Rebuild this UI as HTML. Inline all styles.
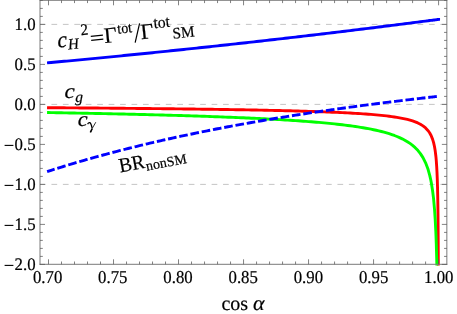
<!DOCTYPE html>
<html><head><meta charset="utf-8"><title>plot</title>
<style>html,body{margin:0;padding:0;background:#fff}svg{display:block;will-change:transform}text{font-family:"Liberation Serif",serif;fill:#000;stroke:#000;stroke-width:0.2px;text-rendering:geometricPrecision}</style></head><body>
<svg width="457" height="314" viewBox="0 0 457 314">
<rect width="457" height="314" fill="#fff"/>
<line x1="40.00" y1="24.40" x2="446.85" y2="24.40" stroke="#bebebe" stroke-width="0.9" stroke-dasharray="5.72 5.72"/>
<line x1="40.00" y1="104.40" x2="446.85" y2="104.40" stroke="#bebebe" stroke-width="0.9" stroke-dasharray="5.72 5.72"/>
<line x1="40.00" y1="184.40" x2="446.85" y2="184.40" stroke="#bebebe" stroke-width="0.9" stroke-dasharray="5.72 5.72"/>
<clipPath id="cp"><rect x="40.00" y="-5" width="406.85" height="270.50"/></clipPath>
<g clip-path="url(#cp)" fill="none" stroke-linejoin="round" stroke-linecap="square">
<path d="M48.50,62.75L51.10,62.51L53.70,62.27L56.30,62.03L58.90,61.79L61.50,61.55L64.10,61.31L66.70,61.07L69.30,60.82L71.91,60.58L74.51,60.34L77.11,60.09L79.71,59.85L82.31,59.60L84.91,59.35L87.51,59.10L90.11,58.85L92.71,58.61L95.31,58.36L97.91,58.11L100.51,57.85L103.11,57.60L105.71,57.35L108.31,57.10L110.91,56.84L113.52,56.59L116.12,56.33L118.72,56.08L121.32,55.82L123.92,55.56L126.52,55.30L129.12,55.05L131.72,54.79L134.32,54.53L136.92,54.26L139.52,54.00L142.12,53.74L144.72,53.48L147.32,53.22L149.92,52.95L152.52,52.69L155.12,52.42L157.73,52.15L160.33,51.89L162.93,51.62L165.53,51.35L168.13,51.08L170.73,50.81L173.33,50.54L175.93,50.27L178.53,50.00L181.13,49.73L183.73,49.45L186.33,49.18L188.93,48.91L191.53,48.63L194.13,48.36L196.73,48.08L199.33,47.80L201.94,47.52L204.54,47.25L207.14,46.97L209.74,46.69L212.34,46.41L214.94,46.13L217.54,45.84L220.14,45.56L222.74,45.28L225.34,44.99L227.94,44.71L230.54,44.42L233.14,44.14L235.74,43.85L238.34,43.56L240.94,43.28L243.55,42.99L246.15,42.70L248.75,42.41L251.35,42.12L253.95,41.83L256.55,41.53L259.15,41.24L261.75,40.95L264.35,40.65L266.95,40.36L269.55,40.06L272.15,39.77L274.75,39.47L277.35,39.17L279.95,38.87L282.55,38.58L285.15,38.28L287.76,37.98L290.36,37.68L292.96,37.37L295.56,37.07L298.16,36.77L300.76,36.46L303.36,36.16L305.96,35.86L308.56,35.55L311.16,35.24L313.76,34.94L316.36,34.63L318.96,34.32L321.56,34.01L324.16,33.70L326.76,33.39L329.36,33.08L331.97,32.77L334.57,32.46L337.17,32.14L339.77,31.83L342.37,31.51L344.97,31.20L347.57,30.88L350.17,30.57L352.77,30.25L355.37,29.93L357.97,29.61L360.57,29.29L363.17,28.97L365.77,28.65L368.37,28.33L370.97,28.01L373.57,27.69L376.18,27.36L378.78,27.04L381.38,26.72L383.98,26.39L386.58,26.06L389.18,25.74L391.78,25.41L394.38,25.08L396.98,24.75L399.58,24.42L402.18,24.09L404.78,23.76L407.38,23.43L409.98,23.10L412.58,22.77L415.18,22.43L417.79,22.10L420.39,21.76L422.99,21.43L425.59,21.09L427.86,20.80L428.19,20.75L429.73,20.55L430.79,20.42L431.28,20.35L432.55,20.19L433.39,20.08L433.61,20.05L434.48,19.94L435.20,19.84L435.79,19.77L435.99,19.74L436.28,19.70L436.68,19.65L437.01,19.61L437.29,19.57L437.52,19.54L437.70,19.52L437.86,19.50L437.99,19.48L438.09,19.47L438.18,19.45L438.25,19.44L438.31,19.44L438.36,19.43L438.40,19.42L438.43,19.42L438.46,19.42L438.48,19.41L438.50,19.41L438.52,19.41L438.53,19.41L438.54,19.41L438.55,19.41L438.56,19.40L438.56,19.40L438.57,19.40L438.57,19.40L438.57,19.40L438.58,19.40L438.58,19.40L438.58,19.40L438.58,19.40L438.58,19.40L438.59,19.40L438.59,19.40L438.59,19.40L438.59,19.40L438.59,19.40L438.59,19.40L438.59,19.40L438.59,19.40L438.59,19.40L438.59,19.40L438.59,19.40L438.59,19.40L438.59,19.40L438.59,19.40L438.59,19.40L438.59,19.40L438.59,19.40L438.59,19.40L438.59,19.40L438.59,19.40" stroke="#0000ff" stroke-width="2.90"/>
<path d="M48.50,107.69L51.10,107.71L53.70,107.73L56.30,107.75L58.90,107.77L61.50,107.79L64.10,107.81L66.70,107.83L69.30,107.85L71.91,107.87L74.51,107.89L77.11,107.91L79.71,107.93L82.31,107.95L84.91,107.97L87.51,107.99L90.11,108.01L92.71,108.03L95.31,108.05L97.91,108.07L100.51,108.10L103.11,108.12L105.71,108.14L108.31,108.16L110.91,108.19L113.52,108.21L116.12,108.23L118.72,108.26L121.32,108.28L123.92,108.30L126.52,108.33L129.12,108.35L131.72,108.38L134.32,108.40L136.92,108.43L139.52,108.45L142.12,108.48L144.72,108.51L147.32,108.53L149.92,108.56L152.52,108.59L155.12,108.62L157.73,108.64L160.33,108.67L162.93,108.70L165.53,108.73L168.13,108.76L170.73,108.79L173.33,108.82L175.93,108.85L178.53,108.88L181.13,108.91L183.73,108.94L186.33,108.98L188.93,109.01L191.53,109.04L194.13,109.07L196.73,109.11L199.33,109.14L201.94,109.18L204.54,109.21L207.14,109.25L209.74,109.29L212.34,109.32L214.94,109.36L217.54,109.40L220.14,109.44L222.74,109.48L225.34,109.52L227.94,109.56L230.54,109.60L233.14,109.64L235.74,109.69L238.34,109.73L240.94,109.78L243.55,109.82L246.15,109.87L248.75,109.92L251.35,109.96L253.95,110.01L256.55,110.06L259.15,110.11L261.75,110.17L264.35,110.22L266.95,110.27L269.55,110.33L272.15,110.39L274.75,110.44L277.35,110.50L279.95,110.56L282.55,110.63L285.15,110.69L287.76,110.75L290.36,110.82L292.96,110.89L295.56,110.96L298.16,111.03L300.76,111.10L303.36,111.18L305.96,111.26L308.56,111.34L311.16,111.42L313.76,111.50L316.36,111.59L318.96,111.68L321.56,111.77L324.16,111.87L326.76,111.97L329.36,112.07L331.97,112.18L334.57,112.29L337.17,112.40L339.77,112.52L342.37,112.64L344.97,112.77L347.57,112.90L350.17,113.04L352.77,113.18L355.37,113.33L357.97,113.49L360.57,113.66L363.17,113.83L365.77,114.01L368.37,114.21L370.97,114.41L373.57,114.62L376.18,114.85L378.78,115.09L381.38,115.35L383.98,115.62L386.58,115.92L389.18,116.24L391.78,116.58L394.38,116.95L396.98,117.36L399.58,117.81L402.18,118.30L404.78,118.85L407.38,119.46L409.98,120.15L412.58,120.95L415.18,121.87L417.79,122.96L420.39,124.27L422.99,125.89L425.59,127.98L427.86,130.39L428.19,130.80L429.73,133.04L430.79,134.93L431.28,135.95L432.55,139.15L433.39,141.85L433.61,142.67L434.48,146.55L435.20,150.81L435.79,155.50L435.99,157.45L436.28,160.67L436.68,166.35L437.01,172.60L437.29,179.48L437.52,187.05L437.70,195.38L437.86,204.55L437.99,214.64L438.09,225.75L438.18,237.97L438.25,251.43L438.31,266.24L438.31,266.80" stroke="#ff0000" stroke-width="2.90"/>
<path d="M48.50,112.56L51.10,112.60L53.70,112.65L56.30,112.69L58.90,112.74L61.50,112.79L64.10,112.84L66.70,112.88L69.30,112.93L71.91,112.98L74.51,113.03L77.11,113.08L79.71,113.13L82.31,113.18L84.91,113.23L87.51,113.29L90.11,113.34L92.71,113.39L95.31,113.45L97.91,113.50L100.51,113.55L103.11,113.61L105.71,113.66L108.31,113.72L110.91,113.78L113.52,113.83L116.12,113.89L118.72,113.95L121.32,114.01L123.92,114.07L126.52,114.13L129.12,114.19L131.72,114.25L134.32,114.31L136.92,114.38L139.52,114.44L142.12,114.51L144.72,114.57L147.32,114.64L149.92,114.70L152.52,114.77L155.12,114.84L157.73,114.91L160.33,114.98L162.93,115.05L165.53,115.12L168.13,115.19L170.73,115.27L173.33,115.34L175.93,115.42L178.53,115.49L181.13,115.57L183.73,115.65L186.33,115.73L188.93,115.81L191.53,115.89L194.13,115.98L196.73,116.06L199.33,116.14L201.94,116.23L204.54,116.32L207.14,116.41L209.74,116.50L212.34,116.59L214.94,116.69L217.54,116.78L220.14,116.88L222.74,116.98L225.34,117.08L227.94,117.18L230.54,117.28L233.14,117.39L235.74,117.49L238.34,117.60L240.94,117.71L243.55,117.82L246.15,117.94L248.75,118.06L251.35,118.18L253.95,118.30L256.55,118.42L259.15,118.55L261.75,118.68L264.35,118.81L266.95,118.94L269.55,119.08L272.15,119.22L274.75,119.36L277.35,119.51L279.95,119.66L282.55,119.81L285.15,119.97L287.76,120.13L290.36,120.30L292.96,120.47L295.56,120.64L298.16,120.82L300.76,121.00L303.36,121.19L305.96,121.38L308.56,121.58L311.16,121.78L313.76,121.99L316.36,122.21L318.96,122.43L321.56,122.66L324.16,122.90L326.76,123.14L329.36,123.40L331.97,123.66L334.57,123.93L337.17,124.21L339.77,124.50L342.37,124.81L344.97,125.12L347.57,125.45L350.17,125.79L352.77,126.15L355.37,126.52L357.97,126.91L360.57,127.32L363.17,127.75L365.77,128.20L368.37,128.68L370.97,129.18L373.57,129.71L376.18,130.28L378.78,130.87L381.38,131.51L383.98,132.19L386.58,132.93L389.18,133.71L391.78,134.56L394.38,135.49L396.98,136.49L399.58,137.60L402.18,138.82L404.78,140.17L407.38,141.69L409.98,143.41L412.58,145.37L415.18,147.66L417.79,150.35L420.39,153.60L422.99,157.62L425.59,162.79L427.86,168.75L428.19,169.78L429.73,175.31L430.79,180.01L431.28,182.52L432.55,190.45L433.39,197.14L433.61,199.17L434.48,208.77L435.20,219.33L435.79,230.94L435.99,235.75L436.28,243.72L436.68,257.79L436.88,266.80" stroke="#00ff00" stroke-width="2.90"/>
<path d="M48.50,171.15L51.10,170.31L53.70,169.48L56.30,168.66L58.90,167.85L61.50,167.04L64.10,166.24L66.70,165.45L69.30,164.66L71.91,163.88L74.51,163.11L77.11,162.34L79.71,161.58L82.31,160.82L84.91,160.08L87.51,159.33L90.11,158.60L92.71,157.87L95.31,157.14L97.91,156.42L100.51,155.71L103.11,155.00L105.71,154.30L108.31,153.61L110.91,152.92L113.52,152.23L116.12,151.55L118.72,150.88L121.32,150.21L123.92,149.55L126.52,148.89L129.12,148.24L131.72,147.59L134.32,146.95L136.92,146.31L139.52,145.68L142.12,145.05L144.72,144.43L147.32,143.81L149.92,143.20L152.52,142.59L155.12,141.98L157.73,141.39L160.33,140.79L162.93,140.20L165.53,139.62L168.13,139.03L170.73,138.46L173.33,137.88L175.93,137.32L178.53,136.75L181.13,136.19L183.73,135.64L186.33,135.09L188.93,134.54L191.53,134.00L194.13,133.46L196.73,132.92L199.33,132.39L201.94,131.86L204.54,131.34L207.14,130.82L209.74,130.30L212.34,129.79L214.94,129.28L217.54,128.78L220.14,128.28L222.74,127.78L225.34,127.28L227.94,126.79L230.54,126.31L233.14,125.82L235.74,125.34L238.34,124.87L240.94,124.39L243.55,123.92L246.15,123.46L248.75,122.99L251.35,122.53L253.95,122.08L256.55,121.62L259.15,121.17L261.75,120.72L264.35,120.28L266.95,119.84L269.55,119.40L272.15,118.97L274.75,118.53L277.35,118.10L279.95,117.68L282.55,117.25L285.15,116.83L287.76,116.42L290.36,116.00L292.96,115.59L295.56,115.18L298.16,114.77L300.76,114.37L303.36,113.97L305.96,113.57L308.56,113.17L311.16,112.78L313.76,112.39L316.36,112.00L318.96,111.62L321.56,111.23L324.16,110.85L326.76,110.47L329.36,110.10L331.97,109.73L334.57,109.35L337.17,108.99L339.77,108.62L342.37,108.26L344.97,107.90L347.57,107.54L350.17,107.18L352.77,106.83L355.37,106.48L357.97,106.13L360.57,105.78L363.17,105.43L365.77,105.09L368.37,104.75L370.97,104.41L373.57,104.07L376.18,103.74L378.78,103.41L381.38,103.08L383.98,102.75L386.58,102.42L389.18,102.10L391.78,101.78L394.38,101.46L396.98,101.14L399.58,100.82L402.18,100.51L404.78,100.20L407.38,99.89L409.98,99.58L412.58,99.27L415.18,98.97L417.79,98.66L420.39,98.36L422.99,98.06L425.59,97.77L427.86,97.51L428.19,97.47L429.73,97.30L430.79,97.18L431.28,97.12L432.55,96.98L433.39,96.88L433.61,96.86L434.48,96.76L435.20,96.68L435.79,96.62L435.99,96.59L436.28,96.56L436.68,96.52L437.01,96.48L437.29,96.45L437.52,96.42L437.70,96.40L437.86,96.39L437.99,96.37L438.09,96.36L438.18,96.35L438.25,96.34L438.31,96.34L438.36,96.33L438.40,96.33L438.43,96.32L438.46,96.32L438.48,96.32L438.50,96.32L438.52,96.31L438.53,96.31L438.54,96.31L438.55,96.31L438.56,96.31L438.56,96.31L438.57,96.31L438.57,96.31L438.57,96.31L438.58,96.31L438.58,96.31L438.58,96.31L438.58,96.31L438.58,96.31L438.59,96.31L438.59,96.31L438.59,96.31L438.59,96.31L438.59,96.31L438.59,96.31L438.59,96.31L438.59,96.31L438.59,96.31L438.59,96.31L438.59,96.31L438.59,96.31L438.59,96.31L438.59,96.31L438.59,96.31L438.59,96.31L438.59,96.31L438.59,96.31L438.59,96.31L438.59,96.31" stroke="#0000ff" stroke-width="2.90" stroke-dasharray="5.73 5.73" stroke-dashoffset="0.75"/>
</g>
<path d="M40.00,-0.20V264.80" stroke="#7a7a7a" stroke-width="1"/>
<path d="M446.85,-0.20V264.80" stroke="#7a7a7a" stroke-width="1"/>
<path d="M39.50,264.30H447.35" stroke="#7a7a7a" stroke-width="1"/>
<path d="M39.50,0.30H447.35" stroke="#7a7a7a" stroke-width="1"/>
<path d="M48.50,264.30v-5.00M48.50,0.30v5.00M61.50,264.30v-2.80M61.50,0.30v2.80M74.51,264.30v-2.80M74.51,0.30v2.80M87.51,264.30v-2.80M87.51,0.30v2.80M100.51,264.30v-2.80M100.51,0.30v2.80M113.52,264.30v-5.00M113.52,0.30v5.00M126.52,264.30v-2.80M126.52,0.30v2.80M139.52,264.30v-2.80M139.52,0.30v2.80M152.52,264.30v-2.80M152.52,0.30v2.80M165.53,264.30v-2.80M165.53,0.30v2.80M178.53,264.30v-5.00M178.53,0.30v5.00M191.53,264.30v-2.80M191.53,0.30v2.80M204.54,264.30v-2.80M204.54,0.30v2.80M217.54,264.30v-2.80M217.54,0.30v2.80M230.54,264.30v-2.80M230.54,0.30v2.80M243.55,264.30v-5.00M243.55,0.30v5.00M256.55,264.30v-2.80M256.55,0.30v2.80M269.55,264.30v-2.80M269.55,0.30v2.80M282.55,264.30v-2.80M282.55,0.30v2.80M295.56,264.30v-2.80M295.56,0.30v2.80M308.56,264.30v-5.00M308.56,0.30v5.00M321.56,264.30v-2.80M321.56,0.30v2.80M334.57,264.30v-2.80M334.57,0.30v2.80M347.57,264.30v-2.80M347.57,0.30v2.80M360.57,264.30v-2.80M360.57,0.30v2.80M373.57,264.30v-5.00M373.57,0.30v5.00M386.58,264.30v-2.80M386.58,0.30v2.80M399.58,264.30v-2.80M399.58,0.30v2.80M412.58,264.30v-2.80M412.58,0.30v2.80M425.59,264.30v-2.80M425.59,0.30v2.80M438.59,264.30v-5.00M438.59,0.30v5.00M40.00,264.40h5.00M446.85,264.40h-5.00M40.00,256.40h2.80M446.85,256.40h-2.80M40.00,248.40h2.80M446.85,248.40h-2.80M40.00,240.40h2.80M446.85,240.40h-2.80M40.00,232.40h2.80M446.85,232.40h-2.80M40.00,224.40h5.00M446.85,224.40h-5.00M40.00,216.40h2.80M446.85,216.40h-2.80M40.00,208.40h2.80M446.85,208.40h-2.80M40.00,200.40h2.80M446.85,200.40h-2.80M40.00,192.40h2.80M446.85,192.40h-2.80M40.00,184.40h5.00M446.85,184.40h-5.00M40.00,176.40h2.80M446.85,176.40h-2.80M40.00,168.40h2.80M446.85,168.40h-2.80M40.00,160.40h2.80M446.85,160.40h-2.80M40.00,152.40h2.80M446.85,152.40h-2.80M40.00,144.40h5.00M446.85,144.40h-5.00M40.00,136.40h2.80M446.85,136.40h-2.80M40.00,128.40h2.80M446.85,128.40h-2.80M40.00,120.40h2.80M446.85,120.40h-2.80M40.00,112.40h2.80M446.85,112.40h-2.80M40.00,104.40h5.00M446.85,104.40h-5.00M40.00,96.40h2.80M446.85,96.40h-2.80M40.00,88.40h2.80M446.85,88.40h-2.80M40.00,80.40h2.80M446.85,80.40h-2.80M40.00,72.40h2.80M446.85,72.40h-2.80M40.00,64.40h5.00M446.85,64.40h-5.00M40.00,56.40h2.80M446.85,56.40h-2.80M40.00,48.40h2.80M446.85,48.40h-2.80M40.00,40.40h2.80M446.85,40.40h-2.80M40.00,32.40h2.80M446.85,32.40h-2.80M40.00,24.40h5.00M446.85,24.40h-5.00M40.00,16.40h2.80M446.85,16.40h-2.80M40.00,8.40h2.80M446.85,8.40h-2.80M40.00,0.40h2.80M446.85,0.40h-2.80" stroke="#585858" stroke-width="0.75" fill="none"/>
<text transform="translate(35.60 29.80) scale(1.000 1.050)" font-size="16.80" text-anchor="end">1.0</text>
<text transform="translate(35.60 69.80) scale(1.000 1.050)" font-size="16.80" text-anchor="end">0.5</text>
<text transform="translate(35.60 109.80) scale(1.000 1.050)" font-size="16.80" text-anchor="end">0.0</text>
<text transform="translate(35.60 149.80) scale(1.000 1.050)" font-size="16.80" text-anchor="end">0.5</text>
<path d="M4.6,145.40h8.8" stroke="#000" stroke-width="1.1"/>
<text transform="translate(35.60 189.80) scale(1.000 1.050)" font-size="16.80" text-anchor="end">1.0</text>
<path d="M4.6,185.40h8.8" stroke="#000" stroke-width="1.1"/>
<text transform="translate(35.60 229.80) scale(1.000 1.050)" font-size="16.80" text-anchor="end">1.5</text>
<path d="M4.6,225.40h8.8" stroke="#000" stroke-width="1.1"/>
<text transform="translate(35.60 269.80) scale(1.000 1.050)" font-size="16.80" text-anchor="end">2.0</text>
<path d="M4.6,265.40h8.8" stroke="#000" stroke-width="1.1"/>
<text transform="translate(47.60 283.30) scale(1.000 1.080)" font-size="16.80" text-anchor="middle">0.70</text>
<text transform="translate(112.80 283.30) scale(1.000 1.080)" font-size="16.80" text-anchor="middle">0.75</text>
<text transform="translate(178.00 283.30) scale(1.000 1.080)" font-size="16.80" text-anchor="middle">0.80</text>
<text transform="translate(243.20 283.30) scale(1.000 1.080)" font-size="16.80" text-anchor="middle">0.85</text>
<text transform="translate(308.40 283.30) scale(1.000 1.080)" font-size="16.80" text-anchor="middle">0.90</text>
<text transform="translate(373.60 283.30) scale(1.000 1.080)" font-size="16.80" text-anchor="middle">0.95</text>
<text transform="translate(438.80 283.30) scale(1.000 1.080)" font-size="16.80" text-anchor="middle">1.00</text>
<text transform="translate(221.40 310.20) scale(1.000 1.000)" font-size="20.00">cos</text>
<text transform="translate(253.00 310.20) scale(1.000 0.950)" font-size="22.00" font-style="italic">α</text>
<text transform="translate(64.60 98.20) scale(1.080 0.970)" font-size="21.50" font-style="italic">c</text>
<text transform="translate(75.30 102.00) scale(1.000 1.000)" font-size="15.50" font-style="italic">g</text>
<text transform="translate(77.70 126.10) scale(1.040 0.970)" font-size="21.50" font-style="italic">c</text>
<path d="M87.6,124.1Q88.6,122.2 89.8,122.6Q91.2,123.6 92.1,128.0" stroke="#000" stroke-width="1.25" fill="none"/>
<path d="M95.8,122.2L92.3,128.3L90.4,132.3" stroke="#000" stroke-width="0.8" fill="none"/>
<path d="M92.2,128.6L90.4,132.3" stroke="#000" stroke-width="1.5" fill="none"/>
<g transform="translate(57.9,47.0) rotate(-6)">
<text transform="translate(0.10 0.80) scale(1.000 1.040)" font-size="22.00" font-style="italic">c</text>
<text transform="translate(10.40 3.60) scale(1.000 1.030)" font-size="15.00" font-style="italic">H</text>
<text transform="translate(24.30 -9.20) scale(1.000 1.050)" font-size="15.30">2</text>
<path d="M33.8,-7.1h12.2M33.8,-3.05h12.2" stroke="#000" stroke-width="1.15"/>
<text transform="translate(47.00 0.80) scale(1.060 1.040)" font-size="21.00">Γ</text>
<text transform="translate(61.00 -7.00) scale(1.000 1.080)" font-size="13.80">tot</text>
<line x1="77.3" y1="3.7" x2="83.7" y2="-14.9" stroke="#000" stroke-width="1.2"/>
<text transform="translate(83.70 0.90) scale(1.070 1.040)" font-size="21.00">Γ</text>
<text transform="translate(97.40 -8.50) scale(1.000 1.050)" font-size="15.60">tot</text>
<text transform="translate(115.30 3.80) scale(1.000 1.030)" font-size="15.30">SM</text>
</g>
<g transform="translate(119.7,172.4) rotate(-11)">
<text transform="translate(0.40 0.30) scale(0.960 1.000)" font-size="20.30">BR</text>
<text transform="translate(27.00 3.50) scale(1.000 1.000)" font-size="14.00">nonSM</text>
</g>
</svg></body></html>
